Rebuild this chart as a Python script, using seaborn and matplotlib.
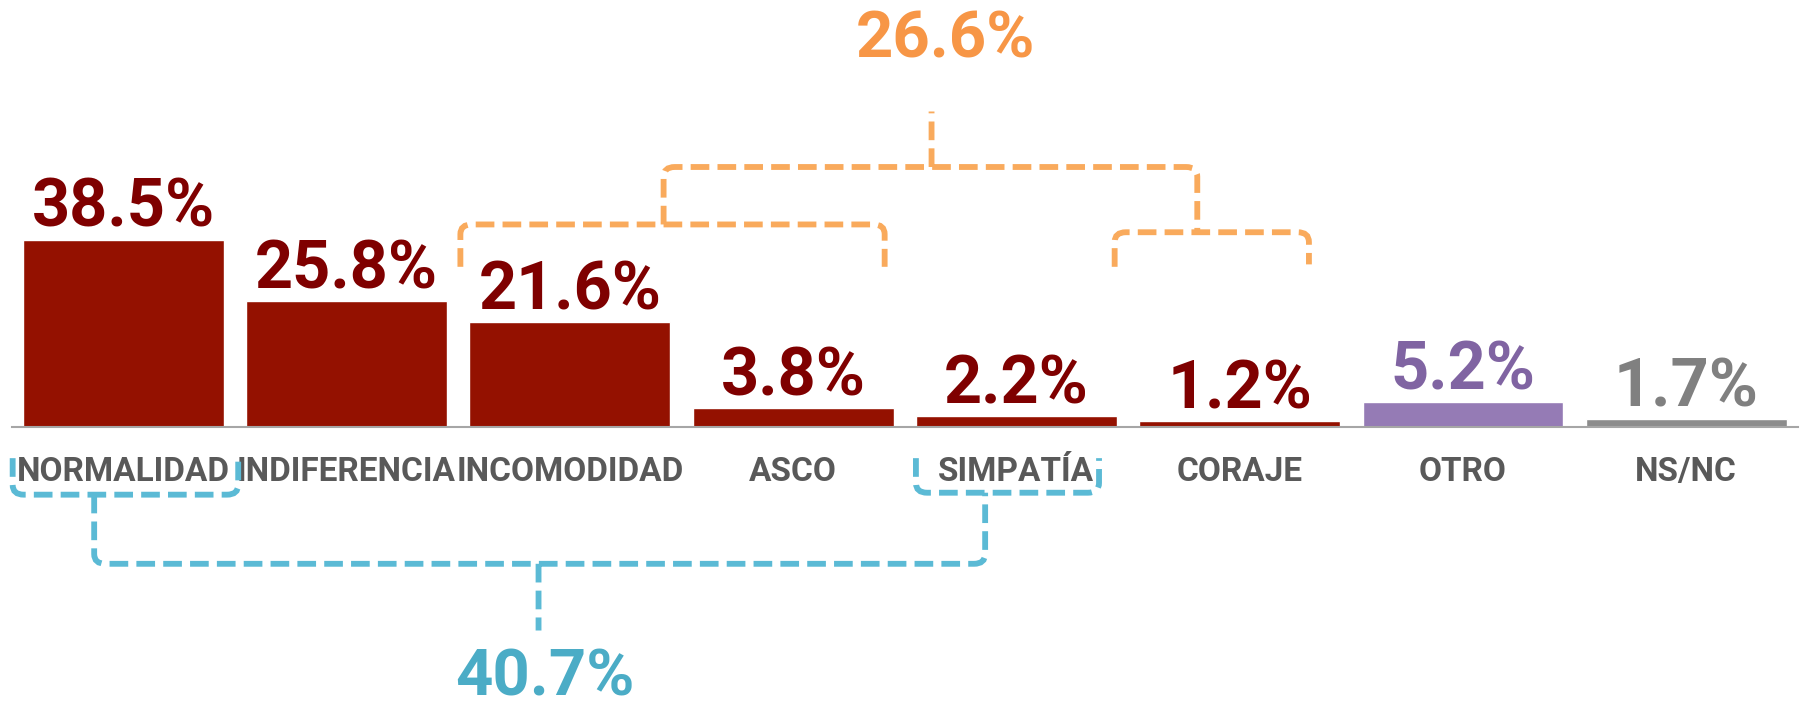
import numpy as np
import pandas as pd
import matplotlib.pyplot as plt
import seaborn as sns
from matplotlib.path import Path
from matplotlib.patches import PathPatch

categorias = ['NORMALIDAD', 'INDIFERENCIA', 'INCOMODIDAD', 'ASCO',
              'SIMPATÍA', 'CORAJE', 'OTRO', 'NS/NC']
porcentajes = [38.5, 25.8, 21.6, 3.8, 2.2, 1.2, 5.2, 1.7]
color_barras = ['#941100'] * 6 + ['#957BB5', '#8C8C8C']
color_textos = ['#7F0000'] * 6 + ['#8064A2', '#808080']
total_naranja = 26.6   # incomodidad + asco + coraje
total_azul = 40.7      # normalidad + simpatía

sns.set_style('white')
plt.rcParams['font.family'] = ['Roboto', 'DejaVu Sans']

df = pd.DataFrame({'categoria': categorias, 'pct': porcentajes})

fig = plt.figure(figsize=(18.05, 7.10), dpi=100)
ax = fig.add_axes([0.0064, 0.3986, 0.9897, 0.6014])
sns.barplot(data=df, x='categoria', y='pct', hue='categoria', palette=color_barras,
            width=0.9, saturation=1, legend=False, ax=ax)

ax.set_xlim(-0.5, 7.5)
ax.set_ylim(0, 87.7)
ax.set_xlabel('')
ax.set_ylabel('')
ax.set_yticks([])
for s in ['top', 'right', 'left']:
    ax.spines[s].set_visible(False)
ax.spines['bottom'].set_color('#A6A6A6')
ax.spines['bottom'].set_linewidth(1.5)

ax.set_xticks(range(len(categorias)))
ax.set_xticklabels(categorias, fontsize=24, fontweight='bold', color='#595959')
ax.tick_params(axis='x', which='major', length=0, pad=21)
ax.set_xticks(np.arange(-0.5, len(categorias), 1), minor=True)
ax.tick_params(axis='x', which='minor', length=7, width=1.5, color='#A6A6A6')

# etiquetas de valor
barras = sorted(ax.patches, key=lambda p: p.get_x())
for b, v, c in zip(barras, porcentajes, color_textos):
    ax.annotate(f'{v:.1f}%', (b.get_x() + b.get_width() / 2, b.get_height()),
                xytext=(0, -1), textcoords='offset points', ha='center', va='bottom',
                fontsize=48, fontweight='bold', color=c)


def llave(x0, x1, y0, y1, yb, color, xs=None, ys=None, rx=0.05, ry=2.0):
    """corchete discontinuo: patas en x0/x1 (desde y0/y1) hasta la barra yb"""
    s = np.sign(yb - y0)
    verts = [(x0, y0), (x0, yb - s * ry), (x0, yb), (x0 + rx, yb),
             (x1 - rx, yb), (x1, yb), (x1, yb - s * ry), (x1, y1)]
    codes = [Path.MOVETO, Path.LINETO, Path.CURVE3, Path.CURVE3,
             Path.LINETO, Path.CURVE3, Path.CURVE3, Path.LINETO]
    if xs is not None:
        verts += [(xs, yb), (xs, ys)]
        codes += [Path.MOVETO, Path.LINETO]
    ax.add_patch(PathPatch(Path(verts, codes), fill=False, edgecolor=color,
                           lw=4.2, linestyle=(0, (3.2, 1.4)), clip_on=False,
                           capstyle='butt'))


naranja = '#F9AA5C'
azul = '#5BBAD5'

llave(1.51, 3.41, 32.9, 32.9, 41.6, naranja)
llave(4.44, 5.31, 32.9, 33.4, 40.0, naranja)
llave(2.42, 4.81, 41.6, 40.0, 53.4, naranja, xs=3.62, ys=64.8)
ax.text(3.68, 79.4, f'{total_naranja:.1f}%', ha='center', va='center',
        fontsize=47, fontweight='bold', color='#F79646')

llave(-0.495, 0.515, -6.4, -6.4, -13.9, azul)
llave(3.55, 4.37, -6.4, -6.4, -13.5, azul)
llave(-0.13, 3.86, -13.9, -13.5, -28.1, azul, xs=1.86, ys=-41.8)
ax.text(1.89, -51.5, f'{total_azul:.1f}%', ha='center', va='center',
        fontsize=47, fontweight='bold', color='#4BACC6')

fig.savefig('out.png', dpi=100)
